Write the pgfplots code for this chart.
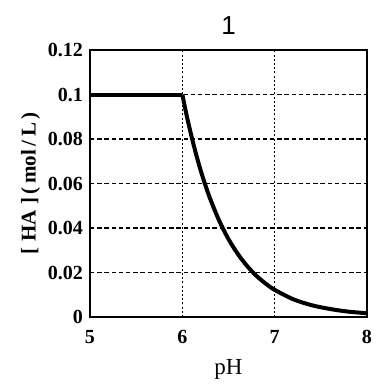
\documentclass[border=0pt]{standalone}
\usepackage{fontspec}
\setmainfont{Liberation Serif}
\newfontfamily\titlefont{Liberation Sans}
\usepackage{pgfplots}
\pgfplotsset{compat=1.18}
\begin{document}
\begin{tikzpicture}
\begin{axis}[
  name=ax,
  scale only axis,
  width=138.5pt, height=133.5pt,
  xmin=5, xmax=8, ymin=0, ymax=0.12,
  xtick={5,6,7,8},
  ytick={0,0.02,0.04,0.06,0.08,0.1,0.12},
  yticklabels={0,0.02,0.04,0.06,0.08,0.1,0.12},
  xticklabels={5,6,7,8},
  tick style={draw=none},
  axis line style={line width=1pt, black},
  grid=major,
  x grid style={black, line width=0.7pt, dash pattern=on 1pt off 1.1pt},
  y grid style={black, line width=0.7pt, dash pattern=on 2.2pt off 1.4pt},
  ticklabel style={font=\fontsize{10}{11}\selectfont\bfseries},
  xticklabel style={yshift=-3pt},
  xlabel={pH},
  ylabel={[\;HA\;]\,(\,mol\,/\,L\,)},
  xlabel style={font=\fontsize{11.5}{13}\selectfont, yshift=-1pt},
  ylabel style={font=\fontsize{10.5}{12}\selectfont\bfseries, yshift=-3pt},
  title={\titlefont 1},
  title style={font=\fontsize{13}{15}\selectfont, yshift=-2pt},
]
\addplot[black, line width=2pt, line join=round, smooth, tension=0.5] coordinates {
(6.0,0.1000) (6.05,0.0900) (6.1,0.0811) (6.15,0.0730) (6.2,0.0657)
(6.25,0.0592) (6.3,0.0533) (6.4,0.0432) (6.5,0.0350) (6.6,0.0284)
(6.7,0.0230) (6.8,0.0186) (6.9,0.0151) (7.0,0.0122) (7.2,0.0080)
(7.4,0.0053) (7.6,0.0036) (7.8,0.0024) (8.0,0.0017)
};
\addplot[black, line width=2pt] coordinates {(5.0,0.100) (6.0,0.100)};
\end{axis}
\path (ax.south west) ++(-45pt,-35pt) coordinate (bl);
\path (ax.south west) ++(145.5pt,158.5pt) coordinate (tr);
\pgfresetboundingbox
\path[use as bounding box] (bl) rectangle (tr);
\end{tikzpicture}
\end{document}
